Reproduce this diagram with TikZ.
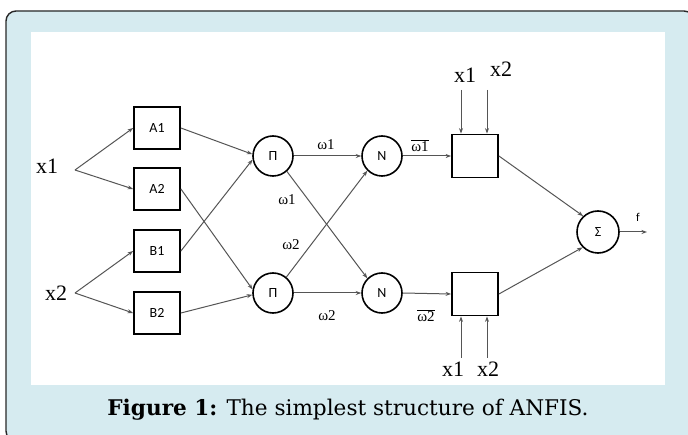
\documentclass[tikz,border=0pt]{standalone}
\usepackage{fontspec}
\setmainfont{Liberation Serif}
\newfontfamily\calfont{Carlito}
\newfontfamily\capfont{DejaVu Serif}
\usetikzlibrary{arrows.meta}
\definecolor{panelblue}{RGB}{214,235,240}
\definecolor{panelline}{RGB}{40,40,40}
\definecolor{wiregray}{RGB}{85,85,85}
\tikzset{
    >={Stealth[length=5.5pt,width=4pt]},
    mf/.style={rectangle,draw=black,line width=1.8pt,minimum width=46pt,minimum height=42pt,inner sep=0pt,font=\calfont\fontsize{14}{14}\selectfont},
    op/.style={circle,draw=black,line width=1.6pt,minimum size=40pt,inner sep=0pt,font=\calfont\fontsize{14}{14}\selectfont},
    link/.style={draw=wiregray,line width=1pt},
    inlabel/.style={inner sep=0pt,font=\fontsize{22}{22}\selectfont},
    wlabel/.style={inner sep=0pt,font=\fontsize{15}{15}\selectfont}
}

\begin{document}
\begin{tikzpicture}[x=1pt,y=-1pt]
  \useasboundingbox (0,0) rectangle (688,435);
  \clip (0,0) rectangle (688,435);
  \fill[white] (0,0) rectangle (688,435);
  \draw[panelline,fill=panelblue,line width=1.4pt,rounded corners=10pt] (6,11) rectangle (694,441);
  \fill[white] (31,32) rectangle (665,385);

  % inputs
  \node[inlabel] (x1) at (47,166) {x1};
  \node[inlabel] (x2) at (56,293) {x2};
  \coordinate (f1) at (75,170);
  \coordinate (f2) at (75,293);

  % layer 1
  \node[mf] (A1) at (157,128) {A1};
  \node[mf] (A2) at (157,189) {A2};
  \node[mf] (B1) at (157,251) {B1};
  \node[mf] (B2) at (157,313) {B2};

  % layers 2 and 3
  \node[op] (P1) at (273,156) {Π};
  \node[op] (P2) at (273,293) {Π};
  \node[op] (N1) at (382,156) {N};
  \node[op] (N2) at (382,293) {N};

  % layers 4 and 5
  \node[mf,minimum height=43pt] (C1) at (475,156) {};
  \node[mf,minimum height=43pt] (C2) at (475,294) {};
  \node[op,minimum size=42pt] (S) at (598,232) {Σ};
  \coordinate (fo) at (647,232);

  \path (f1) edge[link,->] (A1.west) edge[link,->] (A2.west);
  \path (f2) edge[link,->] (B1.west) edge[link,->] (B2.west);
  \draw[link,->] (A1.east) -- (P1.175);
  \draw[link,->] (B1.east) -- (P1.190);
  \draw[link,->] (A2.east) -- (P2.170);
  \draw[link,->] (B2.east) -- (P2.185);
  \draw[link,->] (P1.east) -- (N1.west);
  \draw[link,->] (P1.-48) -- (N2.135);
  \draw[link,->] (P2.50) -- (N1.225);
  \draw[link,->] (P2.east) -- (N2.west);
  \draw[link,->] (N1.east) -- (C1.west);
  \draw[link,->] (N2.east) -- (C2.west);
  \draw[link,->] (C1.east) -- (S.133);
  \draw[link,->] (C2.east) -- (S.225);
  \draw[link,->] (S.east) -- (fo);

  % consequent inputs
  \coordinate (t1) at (461,90);
  \coordinate (t2) at (487,90);
  \coordinate (b1) at (461,358);
  \coordinate (b2) at (487,358);
  \draw[link,->] (t1) -- (t1 |- C1.north);
  \draw[link,->] (t2) -- (t2 |- C1.north);
  \draw[link,->] (b1) -- (b1 |- C2.south);
  \draw[link,->] (b2) -- (b2 |- C2.south);
  \node[inlabel] (tx1) at (465,75) {x1};
  \node[inlabel] (tx2) at (501,69) {x2};
  \node[inlabel] (bx1) at (453,369) {x1};
  \node[inlabel] (bx2) at (488,369) {x2};

  % weights
  \node[wlabel] (w1) at (326,145) {ω1};
  \node[wlabel] (w1x) at (287,200) {ω1};
  \node[wlabel] (w2x) at (291,245) {ω2};
  \node[wlabel] (w2) at (327,316) {ω2};
  \node[wlabel] (nw1) at (420,146) {$\overline{\hbox{ω1}}$};
  \node[wlabel] (nw2) at (426,316) {$\overline{\hbox{ω2}}$};
  \node[font=\calfont\fontsize{12}{12}\selectfont] (fl) at (638,217) {f};

  \node (cap) at (348,410) {\capfont\fontsize{21.6}{22}\selectfont\textbf{Figure 1:} The simplest structure of ANFIS.};
\end{tikzpicture}
\end{document}
